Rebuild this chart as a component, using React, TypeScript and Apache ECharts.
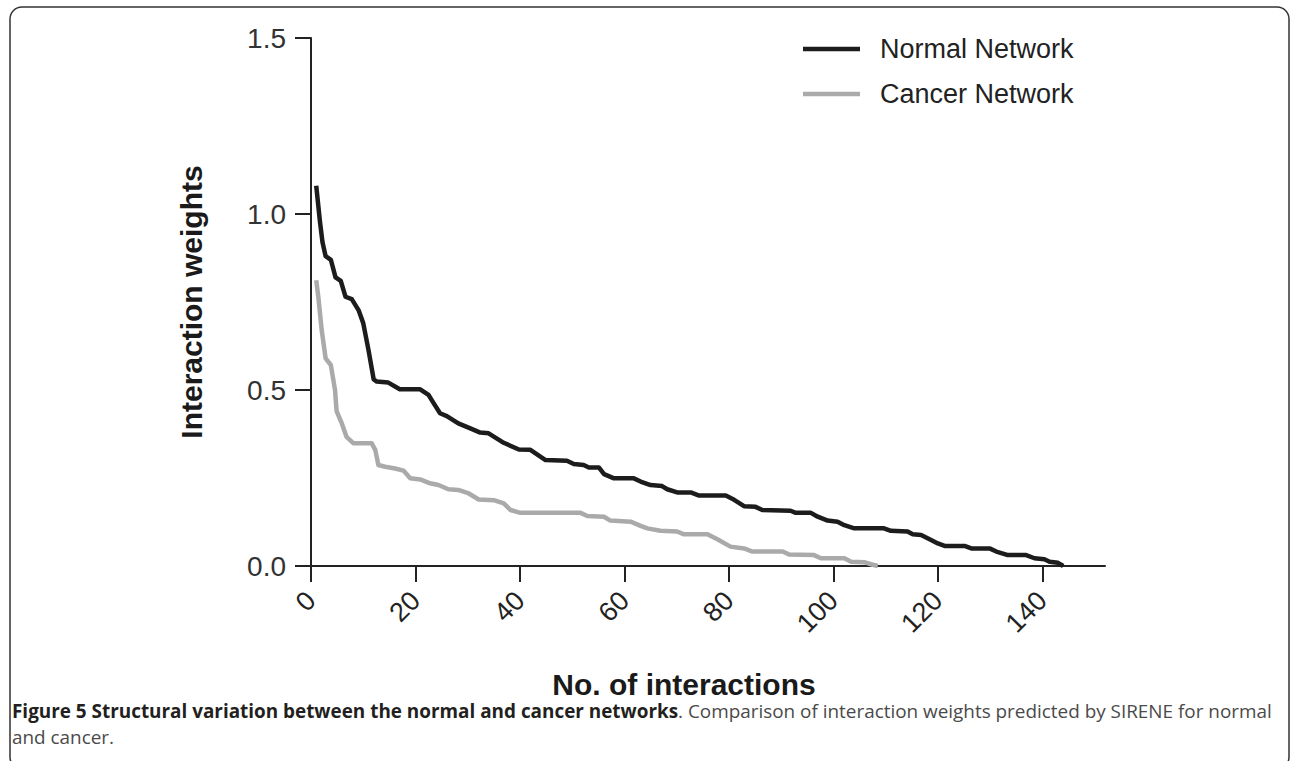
import React, { useEffect, useRef } from "react";
import * as echarts from "echarts";

// Normal network interaction weights (rank, weight)
const normalData: number[][] = [
  [1, 1.08], [1.7, 0.98], [2.2, 0.92], [2.8, 0.88], [3.8, 0.87], [4.7, 0.82], [5.7, 0.81],
  [6.6, 0.765], [7.8, 0.758], [9.1, 0.727], [10, 0.69], [11, 0.614], [12, 0.53], [12.6, 0.524],
  [14.8, 0.521], [17, 0.502], [20.9, 0.502], [22.5, 0.486], [23.5, 0.462], [24.7, 0.434],
  [26, 0.426], [28.2, 0.405], [30.5, 0.391], [32.4, 0.379], [34, 0.377], [36.9, 0.35],
  [39.8, 0.331], [42, 0.33], [44.9, 0.301], [49, 0.299], [50.3, 0.29], [52.2, 0.287],
  [53.2, 0.28], [55.1, 0.28], [56.1, 0.261], [58, 0.249], [61.8, 0.249], [63.1, 0.24],
  [65, 0.23], [67.2, 0.227], [68.2, 0.218], [70.1, 0.209], [72.7, 0.209], [74.3, 0.2],
  [79.4, 0.2], [81, 0.188], [82.9, 0.17], [85.1, 0.168], [86.4, 0.159], [91.8, 0.157],
  [92.8, 0.151], [95.7, 0.151], [97, 0.14], [98.9, 0.129], [100.8, 0.126], [102.1, 0.116],
  [104, 0.107], [109.7, 0.107], [111, 0.1], [114.2, 0.098], [115.2, 0.09], [116.8, 0.088],
  [118.7, 0.074], [120, 0.064], [121.3, 0.057], [125.1, 0.057], [126.4, 0.05], [129.9, 0.05],
  [131.2, 0.041], [133.4, 0.031], [136.9, 0.031], [138.5, 0.022], [140.4, 0.019],
  [141.4, 0.012], [143, 0.009], [144, 0.0],
];

// Cancer network interaction weights (rank, weight)
const cancerData: number[][] = [
  [1, 0.812], [1.4, 0.765], [2.05, 0.67], [2.8, 0.59], [3.8, 0.571], [4.6, 0.5], [4.9, 0.44],
  [5.9, 0.405], [6.8, 0.367], [8.1, 0.349], [11.6, 0.349], [12.3, 0.33], [12.9, 0.287],
  [14.2, 0.282], [16.1, 0.277], [17.7, 0.271], [19, 0.249], [20.9, 0.246], [22.8, 0.235],
  [24.4, 0.23], [26.3, 0.218], [28.2, 0.216], [30.2, 0.206], [32.1, 0.189], [35, 0.187],
  [36.9, 0.178], [38.2, 0.159], [40.1, 0.151], [51.6, 0.151], [52.9, 0.142], [56.1, 0.14],
  [57.3, 0.129], [61.2, 0.126], [63.1, 0.114], [64.4, 0.107], [66.9, 0.1], [70.1, 0.098],
  [71.4, 0.09], [75.9, 0.09], [77.8, 0.076], [80.3, 0.055], [82.9, 0.05], [84.5, 0.041],
  [90.3, 0.041], [91.5, 0.033], [96.3, 0.031], [97.6, 0.022], [102.1, 0.022], [103.4, 0.012],
  [105.9, 0.011], [107.2, 0.005], [108.5, 0.0],
];

const xTickValues = [0, 20, 40, 60, 80, 100, 120, 140];
const yTickValues = [0, 0.5, 1.0, 1.5];
const seriesNames = ["Normal Network", "Cancer Network"];
const xAxisTitle = "No. of interactions";
const yAxisTitle = "Interaction weights";
const captionBold = "Figure 5 Structural variation between the normal and cancer networks";
const captionRest = ". Comparison of interaction weights predicted by SIRENE for normal";
const captionLine2 = "and cancer.";

const FONT = "'Liberation Sans', Arial, sans-serif";
const CAP_FONT = "'Open Sans', 'Noto Sans', sans-serif";
const BLACK = "#1c1c1c";
const GRAY = "#aaaaaa";
const AXIS = "#222222";

export default function App() {
  const ref = useRef<HTMLDivElement>(null);
  useEffect(() => {
    if (!ref.current) return;
    const chart = echarts.init(ref.current, null, { renderer: "svg" });
    chart.setOption({
      animation: false,
      backgroundColor: "#ffffff",
      grid: { left: 311, top: 38, right: 185, bottom: 195, containLabel: false },
      xAxis: {
        type: "value",
        min: 0,
        max: 152,
        interval: 20,
        splitLine: { show: false },
        axisLine: { show: true, onZero: false, lineStyle: { color: AXIS, width: 2 } },
        axisTick: {
          show: true,
          inside: false,
          customValues: xTickValues,
          length: 16,
          lineStyle: { color: AXIS, width: 2, opacity: 1 },
        },
        axisLabel: {
          customValues: xTickValues,
          rotate: 45,
          margin: 30,
          fontSize: 27,
          color: "#222",
          fontFamily: FONT,
        },
      },
      yAxis: {
        type: "value",
        min: 0,
        max: 1.5,
        interval: 0.5,
        splitLine: { show: false },
        axisLine: { show: true, onZero: false, lineStyle: { color: AXIS, width: 2 } },
        axisTick: {
          show: true,
          inside: false,
          length: 16,
          lineStyle: { color: AXIS, width: 2, opacity: 1 },
        },
        axisLabel: {
          margin: 25,
          fontSize: 28,
          color: "#333",
          fontFamily: FONT,
          formatter: (v: number) => (yTickValues.includes(v) ? v.toFixed(1) : ""),
        },
      },
      series: [
        {
          name: seriesNames[0],
          type: "line",
          data: normalData,
          showSymbol: false,
          lineStyle: { color: BLACK, width: 4.5, join: "round" },
          itemStyle: { color: BLACK },
          z: 3,
        },
        {
          name: seriesNames[1],
          type: "line",
          data: cancerData,
          showSymbol: false,
          lineStyle: { color: GRAY, width: 4.5, join: "round" },
          itemStyle: { color: GRAY },
          z: 2,
        },
      ],
      graphic: [
        {
          type: "rect",
          shape: { x: 10, y: 7, width: 1279, height: 762, r: 12 },
          style: { fill: "none", stroke: "#333", lineWidth: 1.5 },
          silent: true,
        },
        // legend
        {
          type: "line",
          shape: { x1: 803, y1: 49, x2: 860, y2: 49 },
          style: { stroke: BLACK, lineWidth: 4.5 },
        },
        {
          type: "text",
          x: 880,
          y: 49,
          style: {
            text: seriesNames[0],
            font: `27px ${FONT}`,
            fill: "#222",
            verticalAlign: "middle",
            align: "left",
          },
        },
        {
          type: "line",
          shape: { x1: 803, y1: 94, x2: 860, y2: 94 },
          style: { stroke: GRAY, lineWidth: 4.5 },
        },
        {
          type: "text",
          x: 880,
          y: 94,
          style: {
            text: seriesNames[1],
            font: `27px ${FONT}`,
            fill: "#222",
            verticalAlign: "middle",
            align: "left",
          },
        },
        // axis titles
        {
          type: "text",
          x: 191,
          y: 302,
          rotation: Math.PI / 2,
          style: {
            text: yAxisTitle,
            font: `bold 30px ${FONT}`,
            fill: "#1a1a1a",
            align: "center",
            verticalAlign: "middle",
          },
        },
        {
          type: "text",
          x: 684,
          y: 684,
          style: {
            text: xAxisTitle,
            font: `bold 30px ${FONT}`,
            fill: "#1a1a1a",
            align: "center",
            verticalAlign: "middle",
          },
        },
        // caption
        {
          type: "text",
          x: 12,
          y: 711,
          style: {
            text: `{b|${captionBold}}{n|${captionRest}}`,
            verticalAlign: "middle",
            align: "left",
            rich: {
              b: { fontFamily: CAP_FONT, fontSize: 18.9, fontWeight: "bold", fill: "#231f20", color: "#231f20" },
              n: { fontFamily: CAP_FONT, fontSize: 18.9, fill: "#4a4a4a", color: "#4a4a4a" },
            },
          },
        },
        {
          type: "text",
          x: 12,
          y: 737,
          style: {
            text: captionLine2,
            font: `18.9px ${CAP_FONT}`,
            fill: "#4a4a4a",
            verticalAlign: "middle",
            align: "left",
          },
        },
      ],
    });
    return () => chart.dispose();
  }, []);
  return (
    <div
      ref={ref}
      style={{ position: "fixed", left: 0, top: 0, width: 1290, height: 761, background: "#fff" }}
    />
  );
}
